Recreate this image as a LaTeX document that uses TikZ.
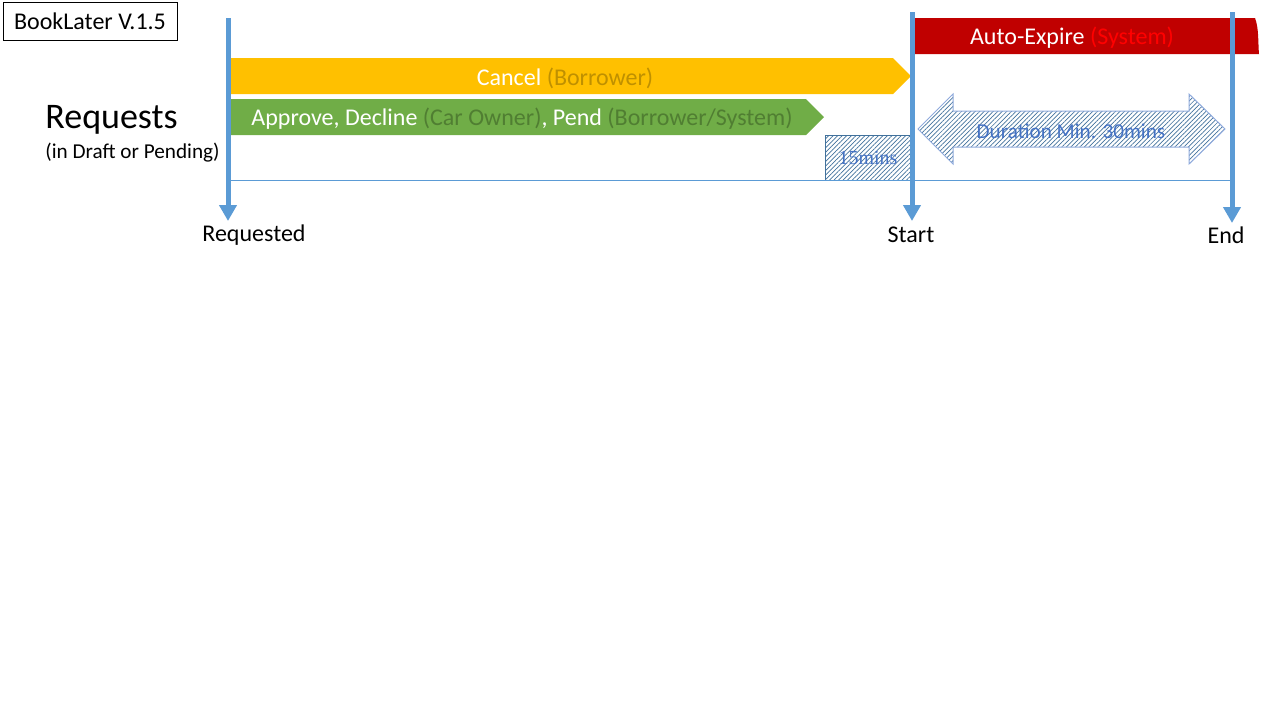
\documentclass[tikz,border=0pt]{standalone}
\usepackage{fontspec}
\setmainfont{Carlito}
\newfontfamily\bufferfont{Liberation Serif}
\usetikzlibrary{arrows.meta,patterns.meta}
\definecolor{tlblue}{HTML}{5B9BD5}
\definecolor{cancelfill}{HTML}{FFC000}
\definecolor{canceldark}{HTML}{BF9000}
\definecolor{approvefill}{HTML}{70AD47}
\definecolor{approvedark}{HTML}{507E32}
\definecolor{expirefill}{HTML}{C00000}
\definecolor{expirelight}{HTML}{FF0000}
\definecolor{hatchblue}{HTML}{41719C}
\definecolor{hatchlight}{HTML}{8FAADC}
\definecolor{durtext}{HTML}{4472C4}
\begin{document}
\begin{tikzpicture}[x=0.5pt,y=-0.5pt,
        timeline/.style={tlblue,line width=2.5pt,-{Triangle[width=8.5pt,length=8pt]}},
        bartext/.style={text=white,font=\fontsize{12}{14}\selectfont,inner sep=0pt},
        hatched/.style={pattern={Lines[angle=45,distance=1.6pt,line width=0.35pt]},pattern color=hatchblue}]
    \useasboundingbox (0,0) rectangle (1280,720);
    % title box
    \node[draw,line width=0.4pt,minimum width=87pt,minimum height=19pt,inner sep=0pt,
          font=\fontsize{12}{14}\selectfont] (version) at (90,21) {BookLater V.1.5};
    \node[font=\fontsize{18}{20}\selectfont,anchor=west,inner sep=0pt] (requests) at (45,120) {Requests};
    \node[font=\fontsize{10.6}{12}\selectfont,anchor=west,inner sep=0pt] (state) at (45,153) {(in Draft or Pending)};
    % bars
    \fill[cancelfill] (228,58) -- (893,58) -- (911,76) -- (893,94) -- (228,94) -- cycle;
    \node[bartext] (cancel) at (565,78) {Cancel \textcolor{canceldark}{(Borrower)}};
    \fill[approvefill] (228,99) -- (806,99) -- (824,117) -- (806,135) -- (228,135) -- cycle;
    \node[bartext] (approve) at (522,119)
        {Approve, Decline \textcolor{approvedark}{(Car Owner)}, Pend \textcolor{approvedark}{(Borrower/System)}};
    \fill[expirefill] (912,18) -- (1255,18) .. controls (1259,28) and (1258,44) .. (1259,54) -- (912,54) -- cycle;
    \node[bartext] (expire) at (1072,38) {Auto-Expire \textcolor{expirelight}{(System)}};
    % buffer and duration
    \draw[hatchblue,line width=0.5pt,hatched] (825,135) rectangle (911,180);
    \node[text=durtext,font=\bufferfont\fontsize{10}{12}\selectfont,inner sep=0pt] (buffer) at (868,158) {15mins};
    \draw[hatchlight,line width=0.5pt,hatched] (918,129) -- (953,94) -- (953,111) -- (1189,111) -- (1189,94)
        -- (1225,129) -- (1189,164) -- (1189,147) -- (953,147) -- (953,164) -- cycle;
    \node[text=durtext,font=\fontsize{10.6}{12}\selectfont,inner sep=0pt] (duration) at (1071,131) {Duration Min. 30mins};
    % time axis
    \coordinate (reqtop) at (228,18);
    \coordinate (reqbot) at (228,221);
    \coordinate (starttop) at (912,12);
    \coordinate (startbot) at (912,221);
    \coordinate (endtop) at (1232,12);
    \coordinate (endbot) at (1232,223);
    \draw[tlblue,line width=0.5pt] (228,180) -- (1232,180);
    \draw[timeline] (reqtop) -- (reqbot);
    \draw[timeline] (starttop) -- (startbot);
    \draw[timeline] (endtop) -- (endbot);
    \node[font=\fontsize{12}{14}\selectfont,inner sep=0pt] (requested) at (254,235) {Requested};
    \node[font=\fontsize{12}{14}\selectfont,inner sep=0pt] (start) at (911,235) {Start};
    \node[font=\fontsize{12}{14}\selectfont,inner sep=0pt] (end) at (1226,235) {End};
\end{tikzpicture}
\end{document}
